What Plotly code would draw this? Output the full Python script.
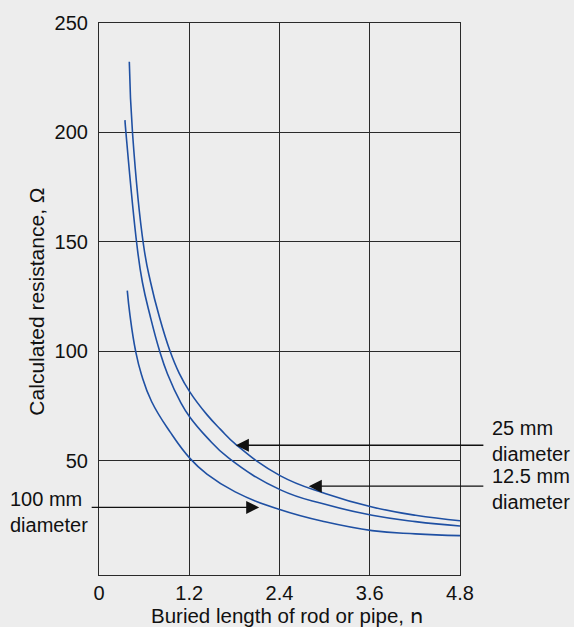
import plotly.graph_objects as go

# ---- data ----
len_a = [0.403, 0.446, 0.593, 0.686, 0.797, 0.943, 1.067, 1.209, 1.435, 1.612, 1.833, 2.413, 3.006, 3.631, 4.208, 4.8]
res_a = [232.3, 199.6, 148.3, 131.5, 116.4, 100.2, 89.9, 81.3, 71.0, 64.4, 57.0, 43.0, 35.0, 28.8, 25.0, 22.5]

len_b = [0.345, 0.359, 0.505, 0.577, 0.678, 0.805, 0.911, 1.089, 1.209, 1.435, 1.722, 2.413, 3.006, 3.631, 4.208, 4.8]
res_b = [205.6, 199.6, 148.3, 131.5, 116.4, 100.2, 89.6, 76.4, 69.8, 60.6, 51.2, 36.6, 30.0, 25.0, 22.1, 20.1]

len_c = [0.376, 0.412, 0.486, 0.566, 0.699, 0.947, 1.209, 1.435, 1.811, 2.413, 3.006, 3.631, 4.208, 4.8]
res_c = [127.7, 116.4, 100.2, 89.1, 77.0, 63.0, 51.0, 43.8, 35.7, 27.5, 22.0, 18.0, 16.5, 15.7]

x_ticks = [0, 1.2, 2.4, 3.6, 4.8]
x_ticktext = ["0", "1.2", "2.4", "3.6", "4.8"]
y_ticks = [50, 100, 150, 200, 250]
y_ticktext = ["50", "100", "150", "200", "250"]

label_25 = "25 mm<br>diameter"
label_125 = "12.5 mm<br>diameter"
label_100 = "100 mm<br>diameter"
x_title = "Buried length of rod or pipe, ո"
y_title = "Calculated resistance, Ω"

# arrow tips (data coords on the curves)
tip_25 = (1.82, 57.0)
tip_125 = (2.79, 38.3)
tip_100 = (2.13, 28.6)

BG = "#ededed"
BLUE = "#1f50a3"
FONT = "Liberation Sans, Arial, sans-serif"
FS = 20

fig = go.Figure()
for xs, ys in [(len_a, res_a), (len_b, res_b), (len_c, res_c)]:
    fig.add_trace(go.Scatter(x=xs, y=ys, mode="lines",
                             line=dict(color=BLUE, width=1.6, shape="spline", smoothing=1.3),
                             showlegend=False, hoverinfo="skip"))

fig.update_layout(
    width=574, height=627,
    margin=dict(l=99, r=114, t=19, b=52),
    paper_bgcolor=BG, plot_bgcolor=BG,
    font=dict(family=FONT, size=FS, color="#111111"),
    showlegend=False,
)
fig.update_xaxes(range=[0, 4.8], tickvals=x_ticks, ticktext=x_ticktext,
                 showgrid=True, gridcolor="#2a2a2a", gridwidth=1,
                 showline=True, linecolor="#2a2a2a", linewidth=1.2, mirror=True,
                 zeroline=False, ticks="", tickfont=dict(size=FS, family=FONT, color="#111"))
fig.update_yaxes(range=[-2.3, 250], tickvals=y_ticks, ticktext=y_ticktext,
                 showgrid=True, gridcolor="#2a2a2a", gridwidth=1,
                 showline=True, linecolor="#2a2a2a", linewidth=1.2, mirror=True,
                 zeroline=False, ticks="", ticklabelstandoff=6,
                 tickfont=dict(size=FS, family=FONT, color="#111"))

ann = []
# axis titles
ann.append(dict(text=x_title, xref="paper", yref="paper", x=(286.5 - 98.7) / 361.3, y=0,
                yshift=-40, xanchor="center", yanchor="middle", showarrow=False,
                font=dict(size=20.5, family=FONT, color="#111")))
ann.append(dict(text=y_title, xref="paper", yref="paper", x=0, y=(574.7 - 299.5) / 555.7,
                xshift=-62, xanchor="center", yanchor="middle", textangle=-90, showarrow=False,
                font=dict(size=21, family=FONT, color="#111")))
# arrows
arrow_style = dict(showarrow=True, arrowhead=2, arrowsize=2.0, arrowwidth=1.3, arrowcolor="#111")
ann.append(dict(text="", x=tip_25[0], y=tip_25[1], xref="x", yref="y", ax=249, ay=0, **arrow_style))
ann.append(dict(text="", x=tip_125[0], y=tip_125[1], xref="x", yref="y", ax=176, ay=0, **arrow_style))
ann.append(dict(text="", x=tip_100[0], y=tip_100[1], xref="x", yref="y", ax=-169, ay=0, **arrow_style))
# labels
ann.append(dict(text=label_25, xref="paper", yref="paper", x=(490 - 98.7) / 361.3,
                y=(574.7 - 440) / 555.7, xanchor="left", yanchor="middle", align="left",
                showarrow=False, font=dict(size=FS, family=FONT, color="#111")))
ann.append(dict(text=label_125, xref="paper", yref="paper", x=(490 - 98.7) / 361.3,
                y=(574.7 - 488) / 555.7, xanchor="left", yanchor="middle", align="left",
                showarrow=False, font=dict(size=FS, family=FONT, color="#111")))
ann.append(dict(text=label_100, xref="paper", yref="paper", x=(8 - 98.7) / 361.3,
                y=(574.7 - 511) / 555.7, xanchor="left", yanchor="middle", align="left",
                showarrow=False, font=dict(size=FS, family=FONT, color="#111")))
fig.update_layout(annotations=ann)

fig.write_html("out.html", config={"displayModeBar": False},
               post_script="document.body.style.margin='0';document.body.style.background='#ededed';")
